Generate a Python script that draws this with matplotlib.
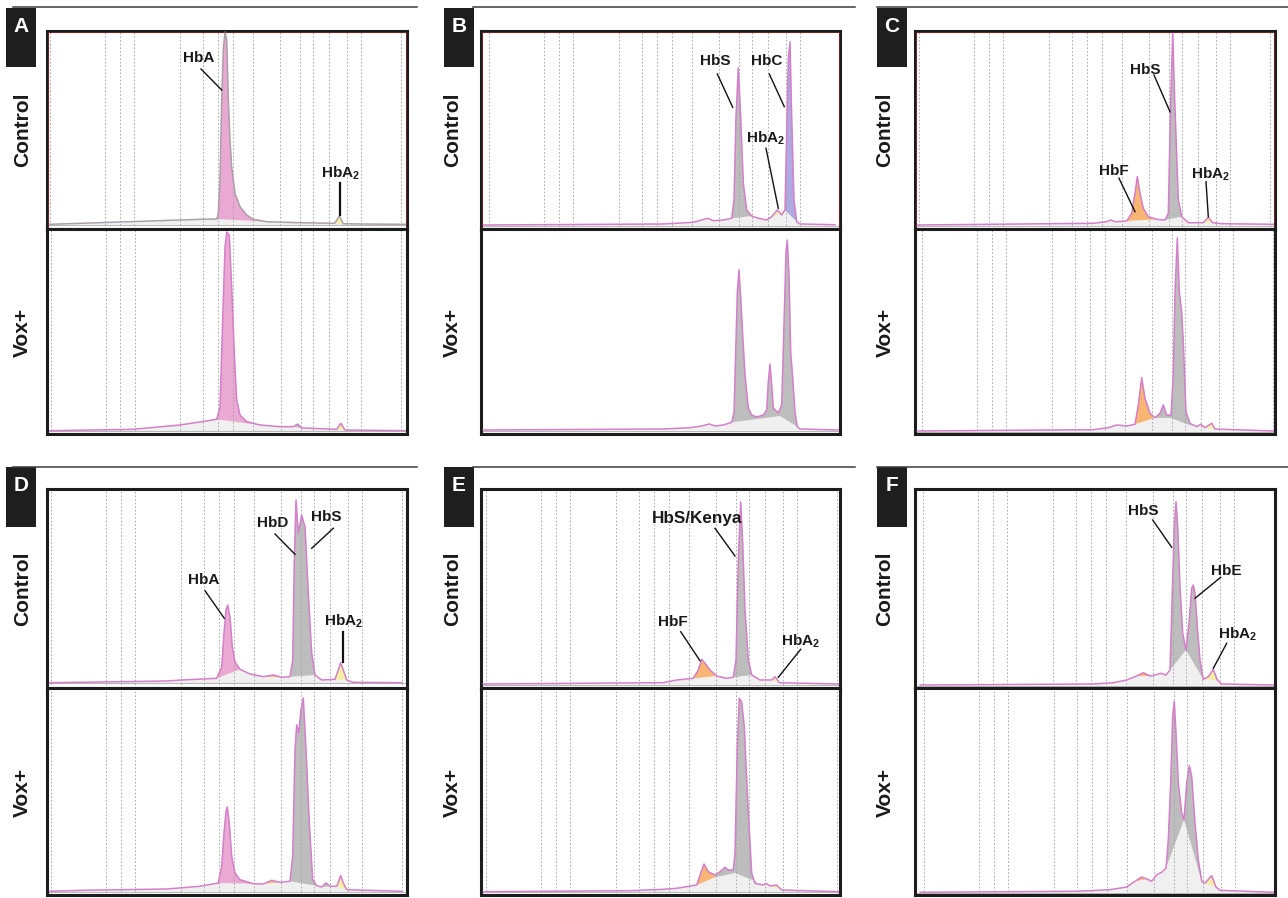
import numpy as np
import matplotlib
matplotlib.use('Agg')
import matplotlib.pyplot as plt
from matplotlib.patches import Rectangle
from matplotlib.lines import Line2D

plt.rcParams['font.family'] = ['Liberation Sans', 'DejaVu Sans']
plt.rcParams['mathtext.fontset'] = 'custom'
plt.rcParams['mathtext.rm'] = 'Liberation Sans:bold'
plt.rcParams['mathtext.it'] = 'Liberation Sans:bold'
plt.rcParams['mathtext.bf'] = 'Liberation Sans:bold'

FW, FH = 1288, 898
fig = plt.figure(figsize=(FW / 100, FH / 100), dpi=100)

# ---------------- data: chromatogram traces (x = retention position, y = signal) -------------
A_ctrl_x = [3, 133, 153, 170, 171.3, 173, 174.7, 176.3, 178, 179.7, 181.3, 183, 184.7, 188, 193, 199.7, 206.3, 219.7, 253, 286, 288, 292.3, 296.3, 313, 358]
A_ctrl_y = [4.7, 9, 9.7, 10, 16, 49, 129, 179, 197, 189, 129, 89, 62, 35.7, 22.3, 14, 9.7, 7.3, 6.3, 5.7, 6, 13, 5.3, 5, 4.7]
A_vox_x = [3, 86.3, 133, 154.7, 169.7, 173, 175.7, 178, 179.7, 182.3, 184.7, 187.3, 189.7, 193, 199.7, 213, 233, 246.3, 250.7, 254.7, 264.7, 289.7, 293.7, 298, 358]
A_vox_y = [3.3, 4.7, 9, 12.3, 14.7, 27, 114, 187, 202, 199, 147, 80.7, 34, 19, 12.3, 9, 7.3, 7.3, 10, 6, 5.7, 4.7, 10.7, 4, 3.3]

B_ctrl_x = [2.3, 182.3, 212.3, 226.7, 232.3, 242.3, 250.7, 253, 255, 257.3, 259.7, 262.3, 265.7, 270.7, 277.3, 285.7, 290.7, 296.3, 300.7, 304, 305.7, 307.3, 309, 310.7, 313, 315.7, 319, 354]
B_ctrl_y = [4, 5, 6.7, 10.7, 8.3, 9, 10.7, 29, 112, 161, 112, 46, 19, 13, 10.7, 9, 12.3, 19, 14, 19, 96, 169, 187, 112, 29, 7.3, 5, 4.3]
B_vox_x = [2.3, 182.3, 209, 220.7, 228.3, 234, 242.3, 250.7, 253, 255, 256.3, 258, 259.7, 261.7, 264, 267.3, 270.7, 275.7, 282.3, 285.7, 287.3, 289, 290.7, 292.3, 297.3, 300.7, 303, 305, 306.3, 308, 309.7, 311.7, 314, 316.3, 319, 357.3]
B_vox_y = [4, 5, 6.3, 8, 10, 8, 9, 11.7, 22, 92, 142, 164, 136, 99, 59, 26, 19, 17, 19, 24, 52, 70, 49, 26, 21, 29, 109, 182, 194, 159, 82, 56, 22, 7.3, 5, 4]

C_ctrl_x = [2.3, 178.3, 191.7, 195.7, 200, 211.7, 216.7, 220, 222.3, 225, 228.3, 233.3, 241.7, 250, 253.3, 255.7, 257.7, 259.7, 263.3, 266.7, 273.3, 288.3, 293.3, 297.7, 306.7, 358.3]
C_ctrl_y = [4, 5.7, 7.3, 9, 7.3, 8, 15.7, 35.7, 52.3, 35.7, 20.7, 12.3, 9.7, 9, 15.7, 129, 196, 129, 29, 12.3, 6.3, 6.3, 11.7, 6.3, 5.3, 4.7]
C_vox_x = [2.3, 178.3, 193.3, 201.7, 211.7, 220, 223.3, 226.7, 230, 235, 240, 245, 248.3, 251.7, 256, 258.3, 260, 262.3, 264.3, 266.7, 268.3, 271, 275, 281.7, 285.7, 290, 296.7, 300, 358.3]
C_vox_y = [3, 4.3, 6.3, 9, 8, 9.7, 29, 56.3, 35.7, 20.7, 16.3, 20.7, 29, 19, 19, 59, 142, 196, 142, 122, 92, 22, 10.7, 7.3, 9.7, 6.3, 10.7, 5, 3]

D_ctrl_x = [3, 119.7, 134.7, 169.7, 174.7, 177, 179, 180.7, 183, 185.3, 188, 193, 203, 216.3, 226.3, 234.7, 243, 245.7, 247.3, 249, 251.3, 254.7, 258, 261.3, 264.7, 268, 274.7, 288, 291.3, 293.7, 296.3, 299.7, 306.3, 354.7]
D_ctrl_y = [5.3, 7, 8, 9.7, 21, 54.7, 78, 83, 71, 41, 26, 18.7, 14, 11.3, 13, 10.7, 11.3, 28, 128, 188, 154.7, 173, 161, 94.7, 34.7, 13, 8, 8.7, 18, 25.3, 18, 8, 5.7, 5.3]
D_vox_x = [3, 36.3, 119.7, 153, 171.3, 174.7, 177, 179, 180.3, 182.3, 184.7, 188, 193, 206.3, 216.3, 224.7, 233, 243, 245.7, 248, 249.7, 251.7, 254, 256.3, 259, 262.3, 265.7, 269.7, 274.7, 279, 283, 289.7, 293.7, 296.3, 299.7, 354.7]
D_vox_y = [3.7, 4.7, 6, 8.7, 12, 28.7, 62, 83.7, 88, 72, 38.7, 22, 15.3, 11.3, 11, 14.7, 12.7, 13.7, 38.7, 145, 170, 162, 185, 197, 145, 72, 15.3, 9.3, 8, 12, 8.7, 8.7, 19.3, 12, 5.3, 3.7]

E_ctrl_x = [2.3, 182.3, 195.7, 212.3, 217.3, 220.7, 224, 229, 235.7, 245.7, 252.3, 255, 257.3, 259.7, 261.7, 264, 267.3, 270.7, 279, 290.7, 294, 298.3, 357.3]
E_ctrl_y = [4, 5.3, 8, 9.7, 18, 28.7, 24.7, 18, 12, 9.7, 10.7, 28, 128, 186, 144.7, 78, 28, 13, 8, 8, 11.3, 5.3, 4]
E_vox_x = [2.3, 149, 182.3, 195.7, 215.7, 219.7, 223, 227.3, 234, 239, 244, 247.3, 252.3, 254, 256.3, 258.3, 260.7, 263.3, 265.7, 268.3, 270.7, 274, 282.3, 285, 289, 295.7, 300.7, 357.3]
E_vox_y = [3.3, 4.3, 5.7, 6.7, 10, 21.7, 31, 23.3, 20, 23.3, 27.7, 25, 25, 41.7, 148, 196.7, 193, 168, 115, 65, 21.7, 11.7, 10, 11.7, 9, 10, 5, 3.3]

F_ctrl_x = [5, 178.3, 198.3, 211.7, 221.7, 228.3, 235, 240, 245.7, 251, 255, 257.3, 259.3, 261, 262.7, 265, 267.7, 271, 274.3, 276.7, 278.3, 280, 282.3, 285, 288.3, 293.3, 298.3, 302.3, 306.7, 358.3]
F_ctrl_y = [3, 4, 5.3, 8, 12, 15.3, 12, 13, 14.7, 13, 18, 94.7, 161.3, 186.3, 161.3, 101.3, 54.7, 38, 68, 99.7, 103, 94.7, 61.3, 28, 8.7, 11.3, 18.7, 8, 4, 3]
F_vox_x = [5, 161.7, 195, 211.7, 220, 226.7, 231.7, 236.7, 241.7, 246.7, 251, 253.3, 255.7, 257.7, 259.3, 261, 263.3, 266.7, 269, 271.7, 274.3, 276.7, 280, 283.3, 286.7, 290, 296.7, 301, 305, 358.3]
F_vox_y = [2.7, 3.7, 5.3, 8, 13.7, 18, 16, 13.7, 20.3, 22.7, 27, 55.3, 112, 178.7, 193.7, 162, 112, 82, 75.3, 112, 129.3, 118.7, 72, 35.3, 13.7, 12, 19.3, 8, 4.7, 2.7]

# peak fills: (start, end, fraction name, integration-baseline points from end back to start)
A_ctrl_fills = [(170, 219.7, 'HbA', []), (288, 296.3, 'HbA2', [])]
A_vox_fills = [(169.7, 213, 'HbA', []), (246.3, 254.7, 'other', []), (289.7, 298, 'HbA2', [])]
B_ctrl_fills = [(226.7, 232.3, 'minor', []), (250.7, 270.7, 'other', []), (285.7, 304, 'HbA2', []), (304, 315.7, 'HbC', [])]
B_vox_fills = [(250.7, 316.3, 'other', [(299, 18), (250.7, 11.7)])]
C_ctrl_fills = [(211.7, 241.7, 'HbF', []), (250, 266.7, 'other', []), (288.3, 297.7, 'HbA2', [])]
C_vox_fills = [(220, 240, 'HbF', []), (240, 275, 'other', [(277, 8), (256, 16)]), (290, 300, 'HbA2', [])]
D_ctrl_fills = [(169.7, 193, 'HbA', []), (216.3, 234.7, 'minor', []), (243, 268, 'other', []), (288, 299.7, 'HbA2', [])]
D_vox_fills = [(171.3, 206.3, 'HbA', []), (216.3, 233, 'minor', []), (243, 269.7, 'other', []), (274.7, 283, 'other', []), (289.7, 299.7, 'HbA2', [])]
E_ctrl_fills = [(212.3, 235.7, 'HbF', []), (252.3, 270.7, 'other', []), (290.7, 298.3, 'HbA2', [])]
E_vox_fills = [(215.7, 234, 'HbF', [(234, 17.7)]), (234, 274, 'other', [(275.7, 13.3), (254, 22), (234, 17.7)]), (289, 300.7, 'HbA2', [])]
F_ctrl_fills = [(221.7, 235, 'HbF', []), (251, 288.3, 'other', [(271, 38)]), (288.3, 302.3, 'HbA2', [])]
F_vox_fills = [(220, 231.7, 'HbF', []), (251, 286.7, 'other', [(269, 75.3)]), (290, 301, 'HbA2', [])]

# vertical marker (dashed) positions
GRID_BASE = [3, 58, 73, 87, 133, 156, 171, 186, 206, 233, 253, 266, 282, 300, 314, 354]
GRID_SHIFT = {'A': (0, 0.5), 'B': (5, None), 'C': (0.5, 3.5), 'D': (1, 1), 'E': (1.5, 1.5), 'F': (5, 5.5)}

# annotations: (label, text x, text y, line x1, y1, x2, y2, line width)
ANNOT = {
    'A': [('HbA', 151.3, 166.5, 154, 160, 174.7, 139, 1.0),
          ('HbA$_2$', 293, 51.5, 293, 46.3, 293, 14, 1.6)],
    'B': [('HbS', 234, 164, 236.3, 155, 251.7, 121.7, 1.0),
          ('HbC', 285.7, 164, 288.3, 155, 303.3, 122.3, 1.0),
          ('HbA$_2$', 284, 86.5, 285, 80.7, 297.3, 20.7, 1.0)],
    'C': [('HbS', 230.7, 155.5, 239, 154, 255, 117.3, 1.0),
          ('HbF', 199, 54, 204, 50.7, 220, 17.3, 1.0),
          ('HbA$_2$', 295.8, 50.5, 291, 47.3, 293.3, 12.3, 1.0)],
    'D': [('HbA', 156.3, 104, 158, 97.3, 177.3, 69.7, 1.0),
          ('HbD', 225.7, 161.2, 228, 154, 248, 133.7, 1.0),
          ('HbS', 279.7, 167.2, 286.3, 159.7, 264.7, 139.7, 1.0),
          ('HbA$_2$', 296.3, 62.2, 295.7, 56.3, 295.7, 26.3, 1.6)],
    'E': [('HbS/Kenya', 215.7, 165, 234, 159.7, 254, 132, 1.0),
          ('HbF', 192.3, 61.5, 199.7, 56.3, 219, 27.3, 1.0),
          ('HbA$_2$', 319, 42.2, 319.7, 38.7, 297.3, 10.7, 1.0)],
    'F': [('HbS', 228.3, 173, 237.7, 168, 256.7, 140.7, 1.0),
          ('HbE', 311, 113, 305.7, 110.7, 280, 89.7, 1.0),
          ('HbA$_2$', 322.3, 49.5, 311.7, 44.7, 298.3, 19.7, 1.0)],
}

ROW_LABELS = ['Control', 'Vox+']
PANELS = ['A', 'B', 'C', 'D', 'E', 'F']

# ---------------- styles / layout ----------------
FILL_COL = {'HbA': '#eaa9d2', 'HbA2': '#f6eea2', 'other': '#bdbdbd', 'HbC': '#aeaae2',
            'HbF': '#f8b574', 'minor': '#f3c27f'}
TRACE_COL = '#d47fc9'
COL_LEFT = [47, 481, 915]
COL_W = [360, 359, 360]
ROWS = [(31, 229, 434), (489, 688, 895)]
LBL_BOX = {'A': (6, 8, 30, 59), 'B': (444, 8, 30, 59), 'C': (877, 8, 30, 59),
           'D': (6, 467, 30, 60), 'E': (444, 467, 30, 60), 'F': (877, 467, 30, 60)}
TOPLINE = {'A': (13, 417, 7), 'B': (473, 855, 7), 'C': (877, 1288, 7),
           'D': (13, 417, 467), 'E': (473, 855, 467), 'F': (877, 1288, 467)}
ROWLBL_X = [22.5, 452.5, 885]

data = {
    'A': ((A_ctrl_x, A_ctrl_y, A_ctrl_fills), (A_vox_x, A_vox_y, A_vox_fills)),
    'B': ((B_ctrl_x, B_ctrl_y, B_ctrl_fills), (B_vox_x, B_vox_y, B_vox_fills)),
    'C': ((C_ctrl_x, C_ctrl_y, C_ctrl_fills), (C_vox_x, C_vox_y, C_vox_fills)),
    'D': ((D_ctrl_x, D_ctrl_y, D_ctrl_fills), (D_vox_x, D_vox_y, D_vox_fills)),
    'E': ((E_ctrl_x, E_ctrl_y, E_ctrl_fills), (E_vox_x, E_vox_y, E_vox_fills)),
    'F': ((F_ctrl_x, F_ctrl_y, F_ctrl_fills), (F_vox_x, F_vox_y, F_vox_fills)),
}


def pax(l, t, w, h):
    return fig.add_axes([l / FW, 1 - (t + h) / FH, w / FW, h / FH])


def draw(ax, xs, ys, fills, shift, w, h, trace_col, red_inner=False):
    xs = np.asarray(xs, float)
    ys = np.asarray(ys, float)
    ax.set_xlim(0, w)
    ax.set_ylim(0, h)
    ax.set_xticks([])
    ax.set_yticks([])
    if shift is not None:
        for g in GRID_BASE:
            ax.axvline(g + shift, color='#a4a4a4', lw=0.65, ls=(0, (1.8, 2.2)), zorder=2)
    ax.fill_between(xs, ys, ys.min(), color='#f0f0f0', lw=0, zorder=1)
    ax.axhline(ys.min() - 0.5, color='#b8b8b8', lw=0.8, zorder=1.2)
    for (x0, x1, name, base) in fills:
        m = (xs >= x0 - 0.01) & (xs <= x1 + 0.01)
        px = list(xs[m]) + [b[0] for b in base]
        py = list(ys[m]) + [b[1] for b in base]
        ax.fill(px, py, color=FILL_COL[name], lw=0, zorder=1.5)
    ax.plot(xs, ys, color=trace_col, lw=1.1, zorder=3, solid_joinstyle='round')
    for s in ax.spines.values():
        s.set_linewidth(2.2)
        s.set_color('#1c1c1c')
    if red_inner:
        ax.add_patch(Rectangle((0.004, 0.006), 0.992, 0.988, transform=ax.transAxes,
                               fill=False, ec='#8a2a2a', lw=0.5, zorder=4))


for i, p in enumerate(PANELS):
    col, row = i % 3, i // 3
    l, w = COL_LEFT[col], COL_W[col]
    top, mid, bot = ROWS[row]
    (cx, cy, cf), (vx, vy, vf) = data[p]
    sh_c, sh_v = GRID_SHIFT[p]
    axc = pax(l, top, w, mid - top)
    draw(axc, cx, cy, cf, sh_c, w, mid - top,
         '#a9a0a8' if p == 'A' else TRACE_COL, red_inner=(row == 0))
    axv = pax(l, mid, w, bot - mid)
    draw(axv, vx, vy, vf, sh_v, w, bot - mid, TRACE_COL)

    for (txt, tx, ty, x1, y1, x2, y2, lw) in ANNOT[p]:
        fs = 12.3 if 'Kenya' in txt else 11
        axc.text(tx, ty, txt, ha='center', va='baseline', fontsize=fs,
                 fontweight='bold', color='#1a1a1a', zorder=6)
        axc.add_line(Line2D([x1, x2], [y1, y2], color='#111111', lw=lw, zorder=6))

    # panel letter box
    bx, by, bw, bh = LBL_BOX[p]
    fig.add_artist(Rectangle((bx / FW, 1 - (by + bh) / FH), bw / FW, bh / FH,
                             transform=fig.transFigure, color='#1e1e1e', lw=0))
    fig.text((bx + bw / 2) / FW, 1 - (by + 18.5) / FH, p, color='white', fontsize=15,
             fontweight='bold', ha='center', va='center')
    x0, x1, yl = TOPLINE[p]
    fig.add_artist(Line2D([x0 / FW, x1 / FW], [1 - yl / FH, 1 - yl / FH],
                          transform=fig.transFigure, color='#3a3a3a', lw=1.1))
    # row labels
    fig.text(ROWLBL_X[col] / FW, 1 - ((top + mid) / 2) / FH, ROW_LABELS[0], rotation=90,
             ha='center', va='center', fontsize=15, fontweight='bold', color='#1a1a1a')
    fig.text(ROWLBL_X[col] / FW, 1 - ((mid + bot) / 2 + 1) / FH, ROW_LABELS[1], rotation=90,
             ha='center', va='center', fontsize=15, fontweight='bold', color='#1a1a1a')

fig.savefig('out.png', dpi=100)
